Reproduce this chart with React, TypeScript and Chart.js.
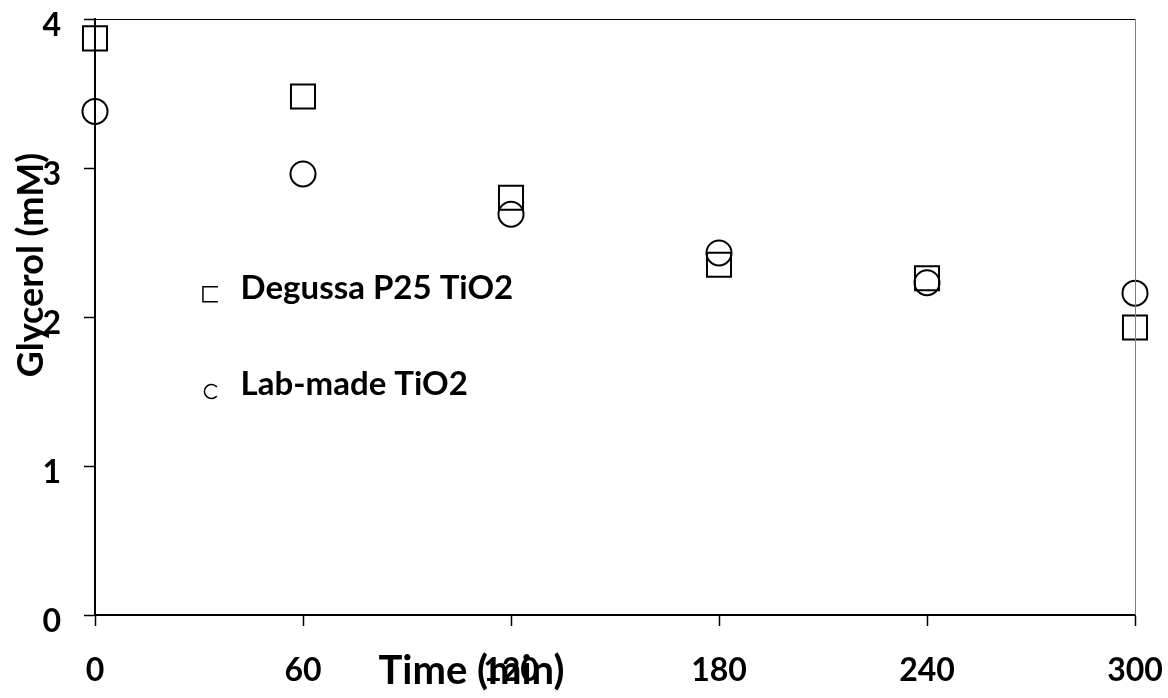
import React, { useEffect, useRef } from "react";
import { Chart, registerables } from "chart.js";

Chart.register(...registerables);

const times = [0, 60, 120, 180, 240, 300];
const degussa = [3.87, 3.48, 2.8, 2.35, 2.26, 1.93];
const labMade = [3.38, 2.96, 2.69, 2.43, 2.23, 2.16];
const xTicks = [0, 60, 120, 180, 240, 300];
const yTicks = [0, 1, 2, 3, 4];
const seriesNames = ["Degussa P25 TiO2", "Lab-made TiO2"];
const xTitle = "Time (min)";
const yTitle = "Glycerol (mM)";

const FONT = "Lato, 'Open Sans', sans-serif";

const decorPlugin = {
  id: "decor",
  afterDraw(chart: any) {
    const { ctx, chartArea } = chart;
    const { left, right, top, bottom } = chartArea;
    const w = right - left;
    const h = bottom - top;
    ctx.save();
    // top border
    ctx.strokeStyle = "#000";
    ctx.lineWidth = 1;
    ctx.beginPath();
    ctx.moveTo(left, top + 0.5);
    ctx.lineTo(right, top + 0.5);
    ctx.stroke();
    // right border
    ctx.strokeStyle = "#7f7f7f";
    ctx.beginPath();
    ctx.moveTo(right + 0.5, top);
    ctx.lineTo(right + 0.5, bottom);
    ctx.stroke();

    ctx.fillStyle = "#000";
    // x title
    ctx.font = `bold 40px ${FONT}`;
    ctx.textAlign = "center";
    ctx.textBaseline = "middle";
    ctx.fillText(xTitle, left + w * 0.362, bottom + 56);
    // y title
    ctx.save();
    ctx.font = `bold 36px ${FONT}`;
    ctx.translate(31, top + h * 0.413);
    ctx.rotate(-Math.PI / 2);
    ctx.fillText(yTitle, 0, 0);
    ctx.restore();

    // legend
    const lx = left + w * 0.111;
    const ly1 = top + h * 0.462;
    const ly2 = top + h * 0.625;
    ctx.strokeStyle = "#000";
    ctx.lineWidth = 1.5;
    const s = 7.5;
    ctx.beginPath();
    ctx.moveTo(lx + s, ly1 - s);
    ctx.lineTo(lx - s, ly1 - s);
    ctx.lineTo(lx - s, ly1 + s);
    ctx.lineTo(lx + s, ly1 + s);
    ctx.stroke();
    ctx.beginPath();
    ctx.arc(lx + 1, ly2, 7, Math.PI * 0.22, Math.PI * 1.78);
    ctx.stroke();

    ctx.font = `bold 33px ${FONT}`;
    ctx.textAlign = "left";
    ctx.textBaseline = "middle";
    ctx.fillText(seriesNames[0], left + w * 0.14, ly1 - 6);
    ctx.fillText(seriesNames[1], left + w * 0.14, ly2 - 7);
    ctx.restore();
  },
};

export default function App() {
  const ref = useRef<HTMLCanvasElement | null>(null);
  useEffect(() => {
    if (!ref.current) return;
    const chart = new Chart(ref.current, {
      type: "scatter",
      data: {
        datasets: [
          {
            label: seriesNames[0],
            data: times.map((t, i) => ({ x: t, y: degussa[i] })),
            pointStyle: "rect",
            pointRadius: 17,
            pointBorderWidth: 2,
            pointBorderColor: "#000",
            pointBackgroundColor: "rgba(0,0,0,0)",
            clip: false,
          },
          {
            label: seriesNames[1],
            data: times.map((t, i) => ({ x: t, y: labMade[i] })),
            pointStyle: "circle",
            pointRadius: 12.5,
            pointBorderWidth: 2,
            pointBorderColor: "#000",
            pointBackgroundColor: "rgba(0,0,0,0)",
            clip: false,
          },
        ],
      },
      options: {
        animation: false,
        responsive: false,
        devicePixelRatio: 1,
        layout: { padding: { left: 0, top: 18, right: 33, bottom: 0 } },
        plugins: { legend: { display: false }, tooltip: { enabled: false } },
        scales: {
          x: {
            type: "linear",
            min: 0,
            max: 300,
            afterBuildTicks: (scale: any) => {
              scale.ticks = xTicks.map((v) => ({ value: v }));
            },
            afterFit: (scale: any) => {
              scale.height = 83;
              scale.paddingLeft = 0;
              scale.paddingRight = 0;
            },
            ticks: {
              color: "#000",
              font: { family: FONT, size: 32, weight: "bold" },
              padding: 25,
              maxRotation: 0,
              autoSkip: false,
            },
            grid: {
              drawOnChartArea: false,
              tickLength: 11,
              tickColor: "#000",
              tickWidth: 1.5,
            },
            border: { color: "#000", width: 2 },
          },
          y: {
            type: "linear",
            min: 0,
            max: 4,
            afterBuildTicks: (scale: any) => {
              scale.ticks = yTicks.map((v) => ({ value: v }));
            },
            afterFit: (scale: any) => {
              scale.width = 95;
              scale.paddingTop = 0;
              scale.paddingBottom = 0;
            },
            ticks: {
              color: "#000",
              font: { family: FONT, size: 32, weight: "bold" },
              padding: 23,
              labelOffset: 7,
            },
            grid: {
              drawOnChartArea: false,
              tickLength: 11,
              tickColor: "#000",
              tickWidth: 1.5,
            },
            border: { color: "#000", width: 2 },
          },
        },
      },
      plugins: [decorPlugin],
    } as any);
    return () => chart.destroy();
  }, []);
  return (
    <div style={{ position: "absolute", left: 0, top: 0, width: 1168, height: 698, background: "#fff" }}>
      <canvas ref={ref} width={1168} height={698} />
    </div>
  );
}
